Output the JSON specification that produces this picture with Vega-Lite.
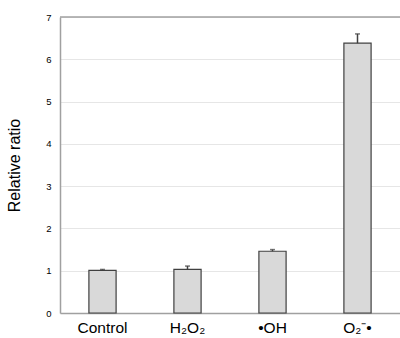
{
  "$schema": "https://vega.github.io/schema/vega-lite/v6.json",
  "width": 340,
  "height": 296,
  "autosize": {"type": "none"},
  "padding": {"left": 60, "top": 17, "right": 0, "bottom": 25},
  "background": "white",
  "config": {
    "font": "Liberation Sans",
    "view": {"stroke": null}
  },
  "data": {
    "values": [
      {"group": "Control", "value": 1.01, "upper": 1.03},
      {"group": "H₂O₂", "value": 1.03, "upper": 1.11},
      {"group": "•OH", "value": 1.46, "upper": 1.5},
      {"group": "O₂⁻•", "value": 6.38, "upper": 6.6}
    ]
  },
  "layer": [
    {
      "encoding": {
        "x": {
          "field": "group",
          "type": "nominal",
          "sort": null,
          "scale": {"paddingInner": 0.68, "paddingOuter": 0.34},
          "axis": {
            "title": null,
            "labelAngle": 0,
            "labelFontSize": 15.5,
            "labelColor": "#000",
            "ticks": false,
            "labelPadding": 7,
            "domainColor": "#a0a0a0",
            "domainWidth": 1.5
          }
        }
      },
      "layer": [
        {
          "mark": {"type": "bar", "fill": "#d9d9d9", "stroke": "#404040", "strokeWidth": 1.2},
          "encoding": {
            "y": {
              "field": "value",
              "type": "quantitative",
              "scale": {"domain": [0, 7], "nice": false},
              "axis": {
                "title": "Relative ratio",
                "titleFontSize": 16,
                "titleFontWeight": "normal",
                "titleColor": "#000",
                "titleX": -38,
                "values": [0, 1, 2, 3, 4, 5, 6, 7],
                "labelFontSize": 9.5,
                "labelColor": "#000",
                "ticks": false,
                "labelPadding": 9,
                "domainColor": "#a0a0a0",
                "domainWidth": 1.5,
                "gridColor": "#e6e6e6",
                "gridWidth": 1
              }
            }
          }
        },
        {
          "mark": {"type": "rule", "stroke": "#404040", "strokeWidth": 1.5},
          "encoding": {
            "y": {"field": "value", "type": "quantitative"},
            "y2": {"field": "upper"}
          }
        },
        {
          "mark": {"type": "tick", "color": "#404040", "size": 5, "thickness": 1.5},
          "encoding": {
            "y": {"field": "upper", "type": "quantitative"}
          }
        }
      ]
    },
    {
      "data": {"values": [{"top": 7}]},
      "mark": {"type": "rule", "stroke": "#a0a0a0", "strokeWidth": 1.5},
      "encoding": {
        "y": {"field": "top", "type": "quantitative"}
      }
    }
  ]
}
